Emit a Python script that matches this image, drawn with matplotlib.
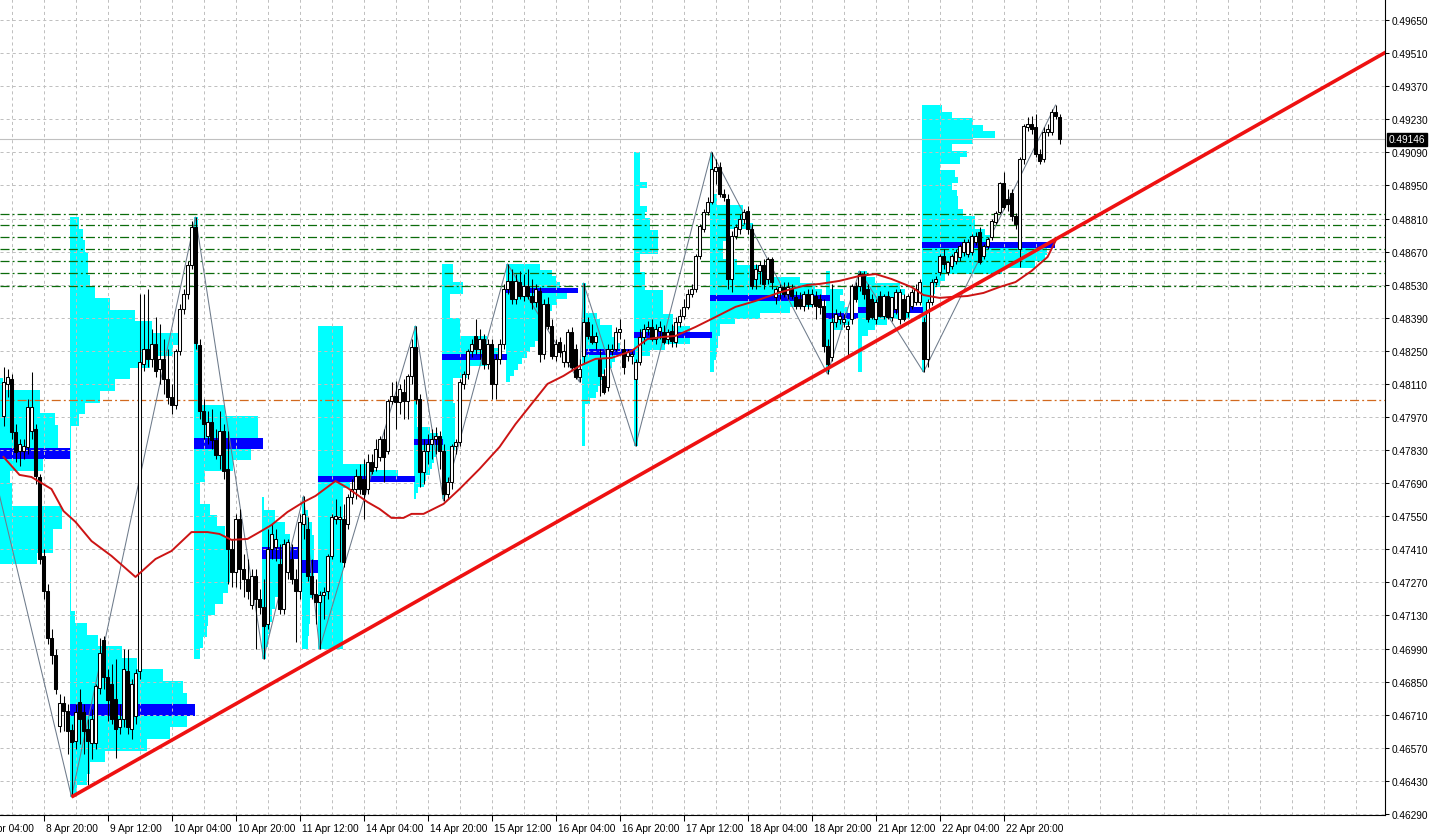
import numpy as np
import matplotlib
matplotlib.use("Agg")
import matplotlib.pyplot as plt
import matplotlib.transforms as mtransforms

plt.rcParams['font.family'] = ['Liberation Sans', 'DejaVu Sans']
plt.rcParams['lines.scale_dashes'] = False

# ---------------- data (H1 candles, bar 0 = 8 Apr 10:00) ----------------
opens = [0.47974, 0.48110, 0.48131, 0.47907, 0.47826, 0.47826, 0.47843, 0.47911, 0.47919, 0.47716,
 0.47382, 0.47234, 0.47035, 0.46963, 0.46662, 0.46760, 0.46726, 0.46645, 0.46599, 0.46764,
 0.46722, 0.46650, 0.46590, 0.46590, 0.46823, 0.47026, 0.46870, 0.46840, 0.46777, 0.46658,
 0.46692, 0.46895, 0.46650, 0.46705, 0.46895, 0.48194, 0.48258, 0.48215, 0.48279, 0.48173,
 0.48215, 0.48131, 0.48055, 0.48021, 0.48249, 0.48427, 0.48491, 0.48613, 0.48774, 0.48275,
 0.47995, 0.47890, 0.47949, 0.47873, 0.47809, 0.47911, 0.47750, 0.47411, 0.47314, 0.47538,
 0.47327, 0.47284, 0.47174, 0.47297, 0.47200, 0.47166, 0.47094, 0.47411, 0.47420, 0.47348,
 0.47157, 0.47314, 0.47369, 0.47284, 0.47234, 0.47517, 0.47496, 0.47297, 0.47221, 0.47187,
 0.47217, 0.47234, 0.47382, 0.47538, 0.47538, 0.47538, 0.47517, 0.47631, 0.47665, 0.47720,
 0.47708, 0.47665, 0.47780, 0.47758, 0.47801, 0.47877, 0.47826, 0.48038, 0.48059, 0.48034,
 0.48076, 0.48038, 0.48144, 0.48266, 0.48046, 0.47737, 0.47826, 0.47856, 0.47877, 0.47890,
 0.47826, 0.47644, 0.47695, 0.47847, 0.47864, 0.48110, 0.48152, 0.48249, 0.48313, 0.48258,
 0.48300, 0.48194, 0.48279, 0.48110, 0.48215, 0.48279, 0.48512, 0.48546, 0.48469, 0.48541,
 0.48482, 0.48524, 0.48482, 0.48457, 0.48503, 0.48237, 0.48448, 0.48355, 0.48228, 0.48287,
 0.48203, 0.48203, 0.48330, 0.48258, 0.48139, 0.48228, 0.48372, 0.48313, 0.48287, 0.48215,
 0.48144, 0.48097, 0.48249, 0.48258, 0.48330, 0.48258, 0.48228, 0.48228, 0.48131, 0.48203,
 0.48309, 0.48342, 0.48351, 0.48300, 0.48334, 0.48330, 0.48300, 0.48334, 0.48287, 0.48372,
 0.48397, 0.48436, 0.48491, 0.48512, 0.48651, 0.48766, 0.48838, 0.48880, 0.49011, 0.49028,
 0.48914, 0.48893, 0.48554, 0.48736, 0.48766, 0.48808, 0.48842, 0.48766, 0.48554, 0.48588,
 0.48613, 0.48554, 0.48639, 0.48478, 0.48503, 0.48520, 0.48491, 0.48512, 0.48478, 0.48469,
 0.48440, 0.48491, 0.48448, 0.48482, 0.48469, 0.48440, 0.48270, 0.48224, 0.48372, 0.48385,
 0.48372, 0.48342, 0.48385, 0.48524, 0.48524, 0.48575, 0.48512, 0.48469, 0.48385, 0.48482,
 0.48397, 0.48482, 0.48393, 0.48427, 0.48385, 0.48469, 0.48414, 0.48440, 0.48457, 0.48457,
 0.48372, 0.48215, 0.48457, 0.48541, 0.48584, 0.48651, 0.48584, 0.48609, 0.48630, 0.48647,
 0.48668, 0.48660, 0.48668, 0.48711, 0.48753, 0.48651, 0.48694, 0.48732, 0.48795, 0.48838,
 0.48960, 0.48893, 0.48918, 0.48821, 0.48681, 0.49062, 0.49197, 0.49210, 0.49197, 0.49083,
 0.49062, 0.49176, 0.49176, 0.49261, 0.49240]

highs = [0.48182, 0.48173, 0.48152, 0.47940, 0.47877, 0.47877, 0.48046, 0.48160, 0.47940, 0.47729,
 0.47411, 0.47263, 0.47073, 0.46988, 0.46798, 0.46789, 0.46755, 0.46671, 0.46755, 0.46819,
 0.46755, 0.46692, 0.46734, 0.46840, 0.47035, 0.47043, 0.46904, 0.46925, 0.46946, 0.46755,
 0.46988, 0.46988, 0.46861, 0.46904, 0.48491, 0.48491, 0.48512, 0.48342, 0.48393, 0.48364,
 0.48300, 0.48258, 0.48110, 0.48258, 0.48448, 0.48512, 0.48630, 0.48800, 0.48816, 0.48300,
 0.48046, 0.47995, 0.48004, 0.47919, 0.47995, 0.47940, 0.47911, 0.47454, 0.47560, 0.47581,
 0.47390, 0.47369, 0.47327, 0.47327, 0.47242, 0.47284, 0.47496, 0.47517, 0.47496, 0.47433,
 0.47454, 0.47454, 0.47433, 0.47327, 0.47560, 0.47636, 0.47547, 0.47369, 0.47284, 0.47234,
 0.47251, 0.47390, 0.47560, 0.47623, 0.47593, 0.47602, 0.47644, 0.47708, 0.47750, 0.47771,
 0.47792, 0.47813, 0.47813, 0.47877, 0.47890, 0.47919, 0.48046, 0.48118, 0.48122, 0.48110,
 0.48131, 0.48152, 0.48300, 0.48355, 0.48067, 0.47877, 0.47898, 0.47919, 0.47928, 0.47911,
 0.47856, 0.47716, 0.47856, 0.47877, 0.48131, 0.48165, 0.48258, 0.48300, 0.48385, 0.48342,
 0.48321, 0.48300, 0.48300, 0.48237, 0.48300, 0.48533, 0.48618, 0.48596, 0.48575, 0.48588,
 0.48575, 0.48596, 0.48554, 0.48533, 0.48520, 0.48469, 0.48478, 0.48385, 0.48300, 0.48309,
 0.48279, 0.48342, 0.48351, 0.48279, 0.48215, 0.48537, 0.48393, 0.48364, 0.48330, 0.48258,
 0.48173, 0.48279, 0.48279, 0.48351, 0.48385, 0.48300, 0.48258, 0.48258, 0.48215, 0.48342,
 0.48364, 0.48376, 0.48385, 0.48364, 0.48376, 0.48359, 0.48342, 0.48364, 0.48393, 0.48427,
 0.48469, 0.48512, 0.48533, 0.48660, 0.48787, 0.48850, 0.48901, 0.49092, 0.49062, 0.49049,
 0.48935, 0.48914, 0.48757, 0.48787, 0.48829, 0.48850, 0.48863, 0.48787, 0.48618, 0.48630,
 0.48639, 0.48647, 0.48647, 0.48520, 0.48533, 0.48541, 0.48541, 0.48533, 0.48503, 0.48499,
 0.48503, 0.48512, 0.48512, 0.48503, 0.48491, 0.48469, 0.48300, 0.48533, 0.48427, 0.48419,
 0.48406, 0.48376, 0.48533, 0.48541, 0.48588, 0.48588, 0.48533, 0.48491, 0.48469, 0.48503,
 0.48491, 0.48503, 0.48469, 0.48512, 0.48512, 0.48491, 0.48491, 0.48512, 0.48533, 0.48554,
 0.48393, 0.48469, 0.48554, 0.48567, 0.48660, 0.48681, 0.48630, 0.48660, 0.48681, 0.48702,
 0.48723, 0.48723, 0.48744, 0.48753, 0.48774, 0.48702, 0.48732, 0.48808, 0.48842, 0.48964,
 0.49007, 0.48935, 0.48935, 0.48833, 0.49070, 0.49210, 0.49240, 0.49244, 0.49252, 0.49104,
 0.49197, 0.49210, 0.49274, 0.49290, 0.49252]

lows = [0.47932, 0.48055, 0.47877, 0.47780, 0.47763, 0.47792, 0.47813, 0.47877, 0.47686, 0.47348,
 0.47200, 0.47009, 0.46925, 0.46798, 0.46637, 0.46641, 0.46544, 0.46362, 0.46565, 0.46586,
 0.46544, 0.46413, 0.46523, 0.46565, 0.46798, 0.46819, 0.46684, 0.46671, 0.46527, 0.46628,
 0.46658, 0.46628, 0.46607, 0.46671, 0.46861, 0.48165, 0.48182, 0.48182, 0.48139, 0.48110,
 0.48067, 0.48025, 0.47983, 0.48004, 0.48232, 0.48406, 0.48469, 0.48596, 0.48258, 0.47962,
 0.47877, 0.47856, 0.47835, 0.47792, 0.47750, 0.47708, 0.47263, 0.47251, 0.47251, 0.47242,
 0.47208, 0.47200, 0.47157, 0.46988, 0.47136, 0.46946, 0.47073, 0.47369, 0.47361, 0.47136,
 0.47136, 0.47284, 0.47263, 0.47018, 0.47200, 0.47454, 0.47276, 0.47200, 0.47094, 0.46988,
 0.47115, 0.47200, 0.47369, 0.47517, 0.47356, 0.47335, 0.47496, 0.47602, 0.47623, 0.47644,
 0.47538, 0.47644, 0.47729, 0.47742, 0.47784, 0.47695, 0.47813, 0.48025, 0.47919, 0.47983,
 0.47962, 0.47962, 0.48110, 0.48025, 0.47674, 0.47686, 0.47771, 0.47792, 0.47813, 0.47750,
 0.47615, 0.47623, 0.47665, 0.47813, 0.47847, 0.48089, 0.48131, 0.48224, 0.48237, 0.48215,
 0.48173, 0.48173, 0.48046, 0.48046, 0.48194, 0.48258, 0.48491, 0.48448, 0.48448, 0.48469,
 0.48461, 0.48469, 0.48427, 0.48436, 0.48203, 0.48215, 0.48342, 0.48215, 0.48207, 0.48224,
 0.48182, 0.48182, 0.48173, 0.48131, 0.48118, 0.48194, 0.48300, 0.48279, 0.48258, 0.48059,
 0.48067, 0.48080, 0.48232, 0.48249, 0.48300, 0.48152, 0.48207, 0.48194, 0.47847, 0.48190,
 0.48279, 0.48317, 0.48292, 0.48279, 0.48300, 0.48279, 0.48279, 0.48266, 0.48266, 0.48351,
 0.48385, 0.48427, 0.48478, 0.48499, 0.48639, 0.48753, 0.48825, 0.48871, 0.48956, 0.48901,
 0.48884, 0.48512, 0.48499, 0.48723, 0.48744, 0.48787, 0.48744, 0.48512, 0.48512, 0.48533,
 0.48512, 0.48533, 0.48512, 0.48448, 0.48469, 0.48478, 0.48469, 0.48469, 0.48427, 0.48427,
 0.48419, 0.48427, 0.48436, 0.48385, 0.48406, 0.48245, 0.48152, 0.48207, 0.48351, 0.48364,
 0.48351, 0.48228, 0.48364, 0.48457, 0.48503, 0.48469, 0.48372, 0.48385, 0.48364, 0.48393,
 0.48385, 0.48385, 0.48376, 0.48406, 0.48364, 0.48376, 0.48393, 0.48427, 0.48444, 0.48444,
 0.48160, 0.48182, 0.48444, 0.48529, 0.48571, 0.48596, 0.48571, 0.48596, 0.48618, 0.48630,
 0.48651, 0.48647, 0.48656, 0.48698, 0.48618, 0.48639, 0.48681, 0.48719, 0.48787, 0.48829,
 0.48850, 0.48842, 0.48800, 0.48766, 0.48605, 0.49041, 0.49180, 0.49168, 0.49070, 0.49041,
 0.49049, 0.49159, 0.49163, 0.49231, 0.49125]

closes = [0.48118, 0.48139, 0.47907, 0.47822, 0.47856, 0.47847, 0.48012, 0.48012, 0.47720, 0.47369,
 0.47234, 0.47035, 0.46963, 0.46819, 0.46760, 0.46726, 0.46641, 0.46595, 0.46722, 0.46692,
 0.46641, 0.46599, 0.46692, 0.46832, 0.46971, 0.46870, 0.46772, 0.46692, 0.46650, 0.46692,
 0.46904, 0.46658, 0.46840, 0.46887, 0.48203, 0.48258, 0.48215, 0.48279, 0.48165, 0.48215,
 0.48131, 0.48055, 0.48021, 0.48249, 0.48427, 0.48491, 0.48613, 0.48774, 0.48283, 0.47995,
 0.47940, 0.47949, 0.47873, 0.47809, 0.47911, 0.47742, 0.47411, 0.47314, 0.47538, 0.47327,
 0.47284, 0.47234, 0.47297, 0.47200, 0.47166, 0.47086, 0.47411, 0.47475, 0.47454, 0.47157,
 0.47433, 0.47441, 0.47284, 0.47234, 0.47526, 0.47560, 0.47297, 0.47221, 0.47187, 0.47217,
 0.47229, 0.47382, 0.47547, 0.47551, 0.47547, 0.47356, 0.47631, 0.47665, 0.47720, 0.47665,
 0.47644, 0.47780, 0.47742, 0.47835, 0.47877, 0.47801, 0.48038, 0.48059, 0.48034, 0.48089,
 0.48038, 0.48144, 0.48266, 0.48046, 0.47737, 0.47826, 0.47856, 0.47877, 0.47890, 0.47826,
 0.47644, 0.47695, 0.47847, 0.47864, 0.48118, 0.48152, 0.48249, 0.48279, 0.48258, 0.48300,
 0.48194, 0.48279, 0.48110, 0.48215, 0.48279, 0.48512, 0.48546, 0.48469, 0.48546, 0.48482,
 0.48524, 0.48482, 0.48457, 0.48512, 0.48237, 0.48448, 0.48355, 0.48228, 0.48279, 0.48245,
 0.48249, 0.48330, 0.48182, 0.48139, 0.48173, 0.48372, 0.48313, 0.48287, 0.48313, 0.48144,
 0.48076, 0.48258, 0.48258, 0.48330, 0.48342, 0.48182, 0.48245, 0.48237, 0.48203, 0.48309,
 0.48342, 0.48351, 0.48300, 0.48342, 0.48351, 0.48287, 0.48330, 0.48292, 0.48372, 0.48397,
 0.48436, 0.48491, 0.48512, 0.48651, 0.48778, 0.48838, 0.48880, 0.49020, 0.49028, 0.48914,
 0.48901, 0.48554, 0.48736, 0.48774, 0.48808, 0.48838, 0.48766, 0.48524, 0.48596, 0.48613,
 0.48533, 0.48639, 0.48541, 0.48512, 0.48520, 0.48491, 0.48520, 0.48482, 0.48440, 0.48440,
 0.48491, 0.48448, 0.48491, 0.48440, 0.48436, 0.48270, 0.48194, 0.48372, 0.48406, 0.48397,
 0.48385, 0.48355, 0.48524, 0.48469, 0.48575, 0.48491, 0.48385, 0.48393, 0.48457, 0.48397,
 0.48482, 0.48393, 0.48478, 0.48499, 0.48499, 0.48385, 0.48482, 0.48499, 0.48512, 0.48541,
 0.48215, 0.48457, 0.48541, 0.48554, 0.48651, 0.48618, 0.48626, 0.48651, 0.48668, 0.48694,
 0.48711, 0.48711, 0.48736, 0.48736, 0.48626, 0.48694, 0.48723, 0.48800, 0.48833, 0.48960,
 0.48859, 0.48871, 0.48821, 0.48787, 0.49062, 0.49202, 0.49210, 0.49189, 0.49083, 0.49053,
 0.49176, 0.49189, 0.49261, 0.49244, 0.49146]

# moving average (read at selected bars)
ma_bars = [0, 4, 7, 12, 15, 18, 22, 27, 33, 38, 42, 47, 51, 54, 57, 61, 64, 67, 71, 75,
           78, 83, 86, 91, 94, 97, 100, 102, 105, 110, 114, 119, 124, 128, 132, 136, 140, 144, 148, 152,
           157, 161, 165, 168, 173, 178, 183, 188, 193, 197, 201, 204, 209, 214, 218, 222, 227, 230, 234, 237,
           241, 245, 249, 253, 257, 261, 263]
ma_values = [0.47801, 0.47725, 0.47716, 0.47665, 0.47572, 0.47526, 0.47445, 0.47382, 0.47293, 0.47369,
             0.47403, 0.47483, 0.47483, 0.47475, 0.47450, 0.47454, 0.47483, 0.47513, 0.47568, 0.47610,
             0.47636, 0.47699, 0.47670, 0.47610, 0.47581, 0.47543, 0.47543, 0.47560, 0.47560, 0.47602,
             0.47665, 0.47750, 0.47843, 0.47940, 0.48025, 0.48110, 0.48144, 0.48186, 0.48216, 0.48220,
             0.48249, 0.48300, 0.48309, 0.48313, 0.48351, 0.48393, 0.48436, 0.48461, 0.48491, 0.48512,
             0.48529, 0.48533, 0.48546, 0.48567, 0.48575, 0.48554, 0.48520, 0.48486, 0.48474, 0.48478,
             0.48482, 0.48495, 0.48520, 0.48541, 0.48588, 0.48647, 0.48715]

# zigzag swing points
zz_bars = [-8, 17, 48, 65, 75, 79, 103, 110, 126, 144, 145, 158, 177, 206, 214, 230, 263]
zz_prices = [0.48135, 0.46362, 0.48816, 0.46946, 0.47636, 0.46988, 0.48355, 0.47615, 0.48618,
             0.48118, 0.48537, 0.47847, 0.49092, 0.48152, 0.48588, 0.48160, 0.49290]

# trend line anchors (ray to the right)
trend_bars = [17, 206]
trend_prices = [0.46362, 0.48175]

green_levels = [0.48828, 0.48781, 0.48731, 0.48680, 0.48629, 0.48578, 0.48526]
orange_level = 0.48042
last_price = 0.49146

# volume profiles per zigzag leg: start bar, top, bottom, row volumes (top -> bottom)
prof_start = [-8, 17, 48, 65, 75, 79, 103, 110, 126, 145, 158, 177, 206, 214, 230]
prof_top = [0.48135, 0.48816, 0.48816, 0.47631, 0.47631, 0.48355, 0.48355, 0.48618, 0.48618,
            0.48537, 0.49092, 0.49092, 0.48588, 0.48588, 0.49290]
prof_bottom = [0.46362, 0.46362, 0.46946, 0.46946, 0.46988, 0.46988, 0.47623, 0.47623, 0.48118,
               0.47847, 0.47847, 0.48160, 0.48160, 0.48160, 0.48160]
prof_vol = [
    [8.4, 17.6, 17.6, 21.4, 22.1, 22.1, 25.1, 18.4, 10.1, 10.6, 10.6, 23.1, 23.1, 20.9, 20.9, 16.9,
     6.0, 5.0, 5.0, 4.0, 4.0, 5.0, 6.0, 5.0, 4.0, 3.0, 3.0, 4.0, 5.0, 4.0, 3.0, 3.0, 2.0, 2.0, 2.0, 1.0],
    [2.4, 3.4, 3.9, 4.6, 4.6, 5.1, 6.4, 10.1, 16.4, 20.6, 27.1, 25.9, 20.1, 15.1, 11.4, 7.6, 3.9, 2.4,
     0.3, 0.3, 0.3, 0.3, 0.3, 0.3, 0.3, 0.3, 0.3, 0.3, 0.3, 0.3, 0.3, 0.3, 0.3, 0.3,
     1.4, 4.4, 7.1, 13.1, 16.9, 23.4, 28.4, 29.4, 31.4, 29.4, 25.1, 19.4, 8.9, 5.1, 4.4, 1.9],
    [1.2, 1.2, 1.2, 1.2, 1.2, 1.2, 1.2, 1.2, 1.2, 1.2, 1.2, 1.2, 1.2, 1.2, 1.2, 1.2, 1.2,
     7.9, 16.1, 16.1, 17.4, 14.4, 9.9, 2.9, 1.6, 1.6, 4.1, 5.9, 7.9, 9.1, 9.1, 9.6, 9.1, 8.6,
     7.4, 5.4, 3.6, 3.4, 2.4, 1.6],
    [0.5, 3.4, 5.9, 7.1, 10.1, 7.1, 5.9, 4.6, 3.4, 2.6, 2.1, 1.6, 1.1],
    [0.5, 1.5, 2.5, 3.0, 3.2, 4.2, 3.0, 2.5, 2.2, 2.0, 1.8, 1.5],
    [6.4, 6.4, 6.4, 6.4, 6.4, 6.4, 6.4, 6.4, 6.4, 6.4, 6.4, 6.4, 6.4, 6.4, 6.4, 6.4, 6.4, 6.4,
     6.4, 6.4, 6.4, 6.4, 6.4, 12.0, 20.1, 24.4, 8.0, 6.4, 6.4, 6.4, 6.4, 6.4, 6.4, 6.4, 6.4,
     6.4, 6.4, 6.4, 6.4, 6.4, 6.4, 6.4, 6.4, 6.4, 6.4, 6.4, 6.4, 6.4, 6.4, 6.4, 6.4, 6.4, 6.4, 6.4],
    [0.8, 0.8, 0.8, 0.8, 0.8, 0.8, 0.8, 0.8, 0.8, 0.8, 0.8, 0.8, 0.8, 0.8, 0.8, 0.8, 0.8,
     4.0, 6.0, 7.4, 6.5, 5.5, 5.0, 4.5, 4.0, 3.0, 2.5, 1.0, 0.5],
    [2.9, 2.9, 2.9, 5.4, 5.4, 2.1, 2.1, 2.1, 2.1, 4.6, 4.6, 4.6, 11.4, 11.4, 14.6, 16.4, 11.4,
     6.4, 6.4, 2.9, 2.9, 2.9, 2.9, 3.4, 3.4, 3.4, 3.4, 3.4, 3.4, 3.4, 3.4, 3.0, 3.0, 2.5, 2.5,
     2.0, 1.5, 1.0, 0.5],
    [8.6, 11.6, 12.6, 13.6, 18.1, 15.4, 12.9, 11.6, 10.4, 9.9, 9.4, 8.6, 8.1, 7.4, 6.1, 5.4,
     4.1, 3.1, 2.1, 1.1],
    [1.0, 1.0, 1.0, 1.0, 1.0, 3.9, 4.6, 7.6, 7.6, 8.4, 9.6, 13.4, 8.4, 7.6, 5.9, 5.1, 4.6, 4.1,
     3.6, 2.1, 0.8, 0.8, 0.8, 0.8, 0.8, 0.8, 0.8],
    [1.6, 1.6, 1.6, 1.6, 1.6, 3.4, 1.6, 1.6, 1.6, 3.4, 2.9, 4.1, 4.1, 6.1, 6.1, 6.1, 6.1, 1.6,
     1.6, 1.6, 2.9, 2.9, 2.9, 7.4, 7.4, 7.4, 7.4, 9.9, 9.9, 14.1, 19.6, 14.1, 7.9, 4.1,
     1.2, 1.2, 1.2, 1.2, 1.2, 1.2, 1.2, 1.2, 1.2, 1.2, 1.2, 1.2, 1.2, 1.2, 1.2],
    [0.8, 0.8, 0.8, 0.8, 0.8, 0.8, 0.8, 1.9, 1.9, 8.4, 8.4, 8.4, 10.9, 5.1, 5.1, 3.4, 3.4, 3.4,
     6.9, 13.4, 13.4, 22.6, 26.4, 28.1, 30.1, 25.6, 20.1, 12.6, 6.4, 2.6, 2.6, 2.2, 2.0, 1.8,
     1.5, 1.2, 1.0],
    [1.0, 1.0, 1.0, 4.4, 3.6, 4.9, 5.6, 8.1, 6.1, 4.4, 1.5, 1.5, 1.5, 1.5, 1.2, 1.0, 1.0],
    [2.4, 4.4, 10.6, 11.9, 10.6, 13.1, 16.4, 13.1, 7.4, 4.4, 2.6, 1.0, 1.0, 1.0, 1.0, 1.0, 1.0],
    [5.1, 7.6, 12.9, 15.4, 18.4, 12.9, 7.6, 11.4, 9.6, 4.6, 8.4, 9.1, 7.6, 8.9, 9.1, 9.1, 10.4,
     13.4, 13.4, 15.9, 17.1, 33.4, 31.4, 30.9, 28.4, 20.0, 5.9, 4.6, 3.4, 2.6, 1.5, 1.5, 1.5,
     1.2, 1.2, 1.2, 1.0, 1.0, 1.0, 0.8, 0.8],
]

x_label_bars = [-6, 10, 26, 42, 58, 74, 90, 106, 122, 138, 154, 170, 186, 202, 218, 234, 250]
x_labels = ["8 Apr 04:00", "8 Apr 20:00", "9 Apr 12:00", "10 Apr 04:00", "10 Apr 20:00",
            "11 Apr 12:00", "14 Apr 04:00", "14 Apr 20:00", "15 Apr 12:00", "16 Apr 04:00",
            "16 Apr 20:00", "17 Apr 12:00", "18 Apr 04:00", "18 Apr 20:00", "21 Apr 12:00",
            "22 Apr 04:00", "22 Apr 20:00"]

price_ticks = [0.46290, 0.46430, 0.46570, 0.46710, 0.46850, 0.46990, 0.47130, 0.47270, 0.47410,
               0.47550, 0.47690, 0.47830, 0.47970, 0.48110, 0.48250, 0.48390, 0.48530, 0.48670,
               0.48810, 0.48950, 0.49090, 0.49230, 0.49370, 0.49510, 0.49650]

# ---------------- figure ----------------
W, H = 1432, 837
fig = plt.figure(figsize=(W / 100, H / 100), dpi=100)
fig.patch.set_facecolor('white')
ax = fig.add_axes([0, 21 / H, 1385 / W, 816 / H])
XMIN, XMAX = -0.875, 345.375
YMIN, YMAX = 0.462857, 0.497389
ax.set_xlim(XMIN, XMAX)
ax.set_ylim(YMIN, YMAX)
ax.set_facecolor('white')

# grid
grid_x = np.arange(2, 346, 8)
ax.vlines(grid_x, YMIN, YMAX, colors='#C0C0C0', linestyles=(0, (2.2, 2.2)), lw=0.72, zorder=3)
ax.hlines(price_ticks, XMIN, XMAX, colors='#C0C0C0', linestyles=(0, (2.2, 2.2)), lw=0.72, zorder=3)

# last price line
ax.axhline(last_price, color='#C0C0C0', lw=0.8, zorder=2.5)

# volume profiles
for s, top, bot, vols in zip(prof_start, prof_top, prof_bottom, prof_vol):
    vols = np.asarray(vols, dtype=float)
    n = len(vols)
    step = (top - bot) / n
    ys = top - step * (np.arange(n) + 0.5)
    left = s - 0.5
    ax.barh(ys, vols, height=step, left=left, color='#00FFFF', linewidth=0,
            antialiased=False, zorder=1)
    k = int(np.argmax(vols))
    ax.barh([ys[k]], [vols[k]], height=step, left=left, color='#0000FF', linewidth=0,
            antialiased=False, zorder=2)

# horizontal levels
for lv in green_levels:
    ax.axhline(lv, color='#0B6B0B', lw=0.9, linestyle=(0, (6.5, 2.2, 1.4, 2.2)), zorder=3.5)
ax.axhline(orange_level, color='#D2691E', lw=0.9, linestyle=(0, (6.5, 2.2, 1.4, 2.2)), zorder=3.5)

# zigzag
ax.plot(zz_bars, zz_prices, color='#6E7B8B', lw=0.75, zorder=4)

# candles
n = min(len(opens), len(highs), len(lows), len(closes))
o = np.array(opens[:n]); h = np.array(highs[:n]); l = np.array(lows[:n]); c = np.array(closes[:n])
h = np.maximum(h, np.maximum(o, c)); l = np.minimum(l, np.minimum(o, c))
idx = np.arange(n)
ax.vlines(idx, l, h, colors='black', lw=0.75, zorder=5)
up = c >= o
bottom = np.minimum(o, c)
height = np.maximum(np.abs(c - o), 0.000012)
bw = 0.55
ax.bar(idx[up], height[up], width=bw, bottom=bottom[up], facecolor='white',
       edgecolor='black', linewidth=0.75, zorder=6)
ax.bar(idx[~up], height[~up], width=bw, bottom=bottom[~up], facecolor='black',
       edgecolor='black', linewidth=0.75, zorder=6)

# moving average
ax.plot(ma_bars, ma_values, color='#CC1414', lw=1.4, zorder=7, solid_joinstyle='round')

# trend line (ray)
slope = (trend_prices[1] - trend_prices[0]) / (trend_bars[1] - trend_bars[0])
x_end = XMAX + 2
ax.plot([trend_bars[0], x_end], [trend_prices[0], trend_prices[0] + slope * (x_end - trend_bars[0])],
        color='#EE1111', lw=2.6, zorder=8, solid_capstyle='butt')

# axes styling
for side in ['top', 'left']:
    ax.spines[side].set_visible(False)
for side in ['right', 'bottom']:
    ax.spines[side].set_linewidth(0.8)
    ax.spines[side].set_color('black')

ax.yaxis.tick_right()
ax.set_yticks(price_ticks)
ax.set_yticklabels([f"{v:.5f}" for v in price_ticks])
ax.tick_params(axis='y', direction='out', length=3, width=0.75, pad=2, labelsize=7.3, colors='black')

vis = [(b, t) for b, t in zip(x_label_bars, x_labels) if XMIN <= b <= XMAX]
ax.set_xticks([b for b, _ in vis])
ax.set_xticklabels([t for _, t in vis])
ax.tick_params(axis='x', direction='out', length=4, width=0.75, pad=2, labelsize=7.3, colors='black')
offset = mtransforms.ScaledTranslation(2 / 72, 0, fig.dpi_scale_trans)
for lbl in ax.get_xticklabels():
    lbl.set_horizontalalignment('left')
    lbl.set_transform(lbl.get_transform() + offset)
# label whose tick lies left of the view (shown cut at the edge, as in the original)
for b, t in zip(x_label_bars, x_labels):
    if b < XMIN:
        tr = ax.get_xaxis_transform() + mtransforms.ScaledTranslation(2 / 72, -6 / 72, fig.dpi_scale_trans)
        ax.text(b, 0, t, transform=tr, ha='left', va='top', fontsize=7.3, clip_on=False)

# current price tag
tag_tr = mtransforms.blended_transform_factory(ax.transAxes, ax.transData)
ax.text(1389 / 1385, last_price, f"{last_price:.5f}", transform=tag_tr, ha='left', va='center',
        fontsize=7.3, color='white', clip_on=False, zorder=20,
        bbox=dict(boxstyle='square,pad=0.15', facecolor='black', edgecolor='black'))

fig.savefig('out.png', dpi=100, facecolor='white')
